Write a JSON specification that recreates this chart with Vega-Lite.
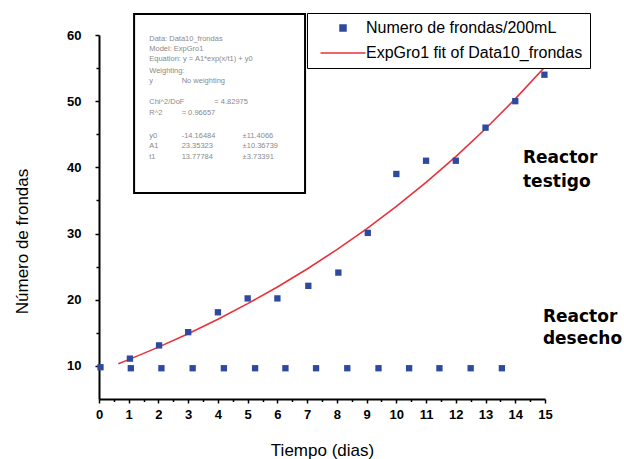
{
  "$schema": "https://vega.github.io/schema/vega-lite/v6.json",
  "autosize": "none",
  "width": 446,
  "height": 364,
  "padding": {"left": 99, "top": 35, "right": 79, "bottom": 60},
  "background": "white",
  "config": {
    "view": {"stroke": null},
    "font": "Liberation Sans",
    "axis": {
      "domainColor": "black",
      "domainWidth": 2,
      "tickColor": "black",
      "tickWidth": 1.5,
      "grid": false,
      "labelFont": "Liberation Sans",
      "labelFontWeight": "bold",
      "labelFontSize": 13,
      "labelColor": "black",
      "titleFont": "Liberation Sans",
      "titleFontWeight": "normal",
      "titleFontSize": 17,
      "titleColor": "black"
    }
  },
  "datasets": {
    "pts": [
      {"dia": 0.05, "frondas": 9.8, "serie": "Numero de frondas/200mL", "reactor": "testigo"},
      {"dia": 1.04, "frondas": 11.1, "serie": "Numero de frondas/200mL", "reactor": "testigo"},
      {"dia": 2.02, "frondas": 13.1, "serie": "Numero de frondas/200mL", "reactor": "testigo"},
      {"dia": 3.0, "frondas": 15.1, "serie": "Numero de frondas/200mL", "reactor": "testigo"},
      {"dia": 4.0, "frondas": 18.1, "serie": "Numero de frondas/200mL", "reactor": "testigo"},
      {"dia": 5.0, "frondas": 20.2, "serie": "Numero de frondas/200mL", "reactor": "testigo"},
      {"dia": 6.0, "frondas": 20.2, "serie": "Numero de frondas/200mL", "reactor": "testigo"},
      {"dia": 7.04, "frondas": 22.1, "serie": "Numero de frondas/200mL", "reactor": "testigo"},
      {"dia": 8.05, "frondas": 24.1, "serie": "Numero de frondas/200mL", "reactor": "testigo"},
      {"dia": 9.04, "frondas": 30.1, "serie": "Numero de frondas/200mL", "reactor": "testigo"},
      {"dia": 10.0, "frondas": 39.0, "serie": "Numero de frondas/200mL", "reactor": "testigo"},
      {"dia": 11.0, "frondas": 41.0, "serie": "Numero de frondas/200mL", "reactor": "testigo"},
      {"dia": 12.0, "frondas": 41.0, "serie": "Numero de frondas/200mL", "reactor": "testigo"},
      {"dia": 13.0, "frondas": 46.0, "serie": "Numero de frondas/200mL", "reactor": "testigo"},
      {"dia": 14.0, "frondas": 50.0, "serie": "Numero de frondas/200mL", "reactor": "testigo"},
      {"dia": 14.98, "frondas": 54.0, "serie": "Numero de frondas/200mL", "reactor": "testigo"},
      {"dia": 1.07, "frondas": 9.65, "serie": "Numero de frondas/200mL", "reactor": "desecho"},
      {"dia": 2.1, "frondas": 9.65, "serie": "Numero de frondas/200mL", "reactor": "desecho"},
      {"dia": 3.15, "frondas": 9.65, "serie": "Numero de frondas/200mL", "reactor": "desecho"},
      {"dia": 4.2, "frondas": 9.65, "serie": "Numero de frondas/200mL", "reactor": "desecho"},
      {"dia": 5.25, "frondas": 9.65, "serie": "Numero de frondas/200mL", "reactor": "desecho"},
      {"dia": 6.27, "frondas": 9.65, "serie": "Numero de frondas/200mL", "reactor": "desecho"},
      {"dia": 7.3, "frondas": 9.65, "serie": "Numero de frondas/200mL", "reactor": "desecho"},
      {"dia": 8.35, "frondas": 9.65, "serie": "Numero de frondas/200mL", "reactor": "desecho"},
      {"dia": 9.4, "frondas": 9.65, "serie": "Numero de frondas/200mL", "reactor": "desecho"},
      {"dia": 10.43, "frondas": 9.65, "serie": "Numero de frondas/200mL", "reactor": "desecho"},
      {"dia": 11.45, "frondas": 9.65, "serie": "Numero de frondas/200mL", "reactor": "desecho"},
      {"dia": 12.5, "frondas": 9.65, "serie": "Numero de frondas/200mL", "reactor": "desecho"},
      {"dia": 13.55, "frondas": 9.65, "serie": "Numero de frondas/200mL", "reactor": "desecho"}
    ],
    "fit": [
      {"dia": 0.65, "frondas": 10.32, "serie": "ExpGro1 fit of Data10_frondas"},
      {"dia": 1, "frondas": 10.95, "serie": "ExpGro1 fit of Data10_frondas"},
      {"dia": 2, "frondas": 12.84, "serie": "ExpGro1 fit of Data10_frondas"},
      {"dia": 3, "frondas": 14.87, "serie": "ExpGro1 fit of Data10_frondas"},
      {"dia": 4, "frondas": 17.06, "serie": "ExpGro1 fit of Data10_frondas"},
      {"dia": 5, "frondas": 19.41, "serie": "ExpGro1 fit of Data10_frondas"},
      {"dia": 6, "frondas": 21.93, "serie": "ExpGro1 fit of Data10_frondas"},
      {"dia": 7, "frondas": 24.65, "serie": "ExpGro1 fit of Data10_frondas"},
      {"dia": 8, "frondas": 27.57, "serie": "ExpGro1 fit of Data10_frondas"},
      {"dia": 9, "frondas": 30.71, "serie": "ExpGro1 fit of Data10_frondas"},
      {"dia": 10, "frondas": 34.09, "serie": "ExpGro1 fit of Data10_frondas"},
      {"dia": 11, "frondas": 37.72, "serie": "ExpGro1 fit of Data10_frondas"},
      {"dia": 12, "frondas": 41.63, "serie": "ExpGro1 fit of Data10_frondas"},
      {"dia": 13, "frondas": 45.83, "serie": "ExpGro1 fit of Data10_frondas"},
      {"dia": 14, "frondas": 50.35, "serie": "ExpGro1 fit of Data10_frondas"},
      {"dia": 15, "frondas": 55.2, "serie": "ExpGro1 fit of Data10_frondas"}
    ],
    "box": [
      {"x1": 1.18, "x2": 6.93, "y1": 63.17, "y2": 36.13}
    ],
    "stats": [
      {"x": 1.69, "y": 59.35, "t": "Data: Data10_frondas"},
      {"x": 1.69, "y": 57.88, "t": "Model: ExpGro1"},
      {"x": 1.69, "y": 56.33, "t": "Equation: y = A1*exp(x/t1) + y0"},
      {"x": 1.69, "y": 54.56, "t": "Weighting:"},
      {"x": 1.69, "y": 53.0, "t": "y"},
      {"x": 2.78, "y": 53.0, "t": "No weighting"},
      {"x": 1.69, "y": 49.92, "t": "Chi^2/DoF"},
      {"x": 3.88, "y": 49.92, "t": "= 4.82975"},
      {"x": 1.69, "y": 48.21, "t": "R^2"},
      {"x": 2.78, "y": 48.21, "t": "= 0.96657"},
      {"x": 1.69, "y": 44.78, "t": "y0"},
      {"x": 2.78, "y": 44.78, "t": "-14.16484"},
      {"x": 4.83, "y": 44.78, "t": "±11.4066"},
      {"x": 1.69, "y": 43.27, "t": "A1"},
      {"x": 2.78, "y": 43.27, "t": "23.35323"},
      {"x": 4.83, "y": 43.27, "t": "±10.36739"},
      {"x": 1.69, "y": 41.61, "t": "t1"},
      {"x": 2.78, "y": 41.61, "t": "13.77784"},
      {"x": 4.83, "y": 41.61, "t": "±3.73391"}
    ],
    "notes": [
      {"x": 14.26, "y": 41.41, "t": "Reactor"},
      {"x": 14.26, "y": 37.79, "t": "testigo"},
      {"x": 14.93, "y": 17.39, "t": "Reactor"},
      {"x": 14.93, "y": 14.07, "t": "desecho"}
    ]
  },
  "resolve": {"axis": {"x": "independent", "y": "independent"}},
  "layer": [
    {
      "data": {"name": "fit"},
      "mark": {"type": "line", "color": "#E8313A", "strokeWidth": 1.6},
      "encoding": {
        "x": {"field": "dia", "type": "quantitative", "scale": {"domain": [0, 15], "nice": false, "zero": false},
              "axis": {"orient": "bottom", "values": [0.5,1.5,2.5,3.5,4.5,5.5,6.5,7.5,8.5,9.5,10.5,11.5,12.5,13.5,14.5], "labels": false, "domain": false, "tickSize": 2.5, "title": null}},
        "y": {"field": "frondas", "type": "quantitative", "scale": {"domain": [5, 60], "nice": false, "zero": false},
              "axis": {"orient": "left", "values": [15, 25, 35, 45, 55], "labels": false, "domain": false, "tickSize": 3, "title": null}},
        "color": {"field": "serie", "type": "nominal",
                  "scale": {"domain": ["Numero de frondas/200mL", "ExpGro1 fit of Data10_frondas"], "range": ["#2E4A9E", "#E8313A"]}}
      }
    },
    {
      "data": {"name": "pts"},
      "mark": {"type": "point", "filled": true, "size": 40, "opacity": 1},
      "encoding": {
        "x": {"field": "dia", "type": "quantitative", "scale": {"domain": [0, 15], "nice": false, "zero": false},
              "axis": {"orient": "bottom", "values": [0,1,2,3,4,5,6,7,8,9,10,11,12,13,14,15], "tickSize": 4, "labelPadding": 5, "labelFlush": false,
                       "title": "Tiempo (dias)", "titleY": 51, "titleBaseline": "middle"}},
        "y": {"field": "frondas", "type": "quantitative", "scale": {"domain": [5, 60], "nice": false, "zero": false},
              "axis": {"orient": "left", "values": [10, 20, 30, 40, 50, 60], "tickSize": 4, "labelPadding": 14, "labelFlush": false,
                       "title": "Número de frondas", "titleAngle": -90, "titleBaseline": "middle", "titleAlign": "center", "titleX": -77, "titleY": 206}},
        "color": {"field": "serie", "type": "nominal",
                  "scale": {"domain": ["Numero de frondas/200mL", "ExpGro1 fit of Data10_frondas"], "range": ["#2E4A9E", "#E8313A"]},
                  "legend": {
                    "title": null, "orient": "none", "legendX": 208, "legendY": -22,
                    "direction": "vertical",
                    "strokeColor": "black", "fillColor": "white", "padding": 7,
                    "symbolSize": 36, "symbolOffset": 21, "labelOffset": 15,
                    "labelFont": "Liberation Sans", "labelFontSize": 16, "labelColor": "black", "labelLimit": 400,
                    "rowPadding": 9,
                    "encode": {"symbols": {"update": {"stroke": {"scale": "color", "field": "value"}, "strokeWidth": {"value": 1.6}}}}
                  }},
        "shape": {"field": "serie", "type": "nominal",
                  "scale": {"domain": ["Numero de frondas/200mL", "ExpGro1 fit of Data10_frondas"], "range": ["square", "M-7.5,0H7.5"]},
                  "legend": {"title": null}}
      }
    },
    {
      "data": {"name": "box"},
      "mark": {"type": "rect", "fill": "white", "stroke": "black", "strokeWidth": 2},
      "encoding": {
        "x": {"field": "x1", "type": "quantitative", "scale": {"domain": [0, 15], "nice": false, "zero": false}, "axis": null},
        "x2": {"field": "x2"},
        "y": {"field": "y1", "type": "quantitative", "scale": {"domain": [5, 60], "nice": false, "zero": false}, "axis": null},
        "y2": {"field": "y2"}
      }
    },
    {
      "data": {"name": "stats"},
      "mark": {"type": "text", "align": "left", "baseline": "middle", "fontSize": 7.5, "color": "#8a8a8a", "font": "Liberation Sans"},
      "encoding": {
        "x": {"field": "x", "type": "quantitative", "scale": {"domain": [0, 15], "nice": false, "zero": false}, "axis": null},
        "y": {"field": "y", "type": "quantitative", "scale": {"domain": [5, 60], "nice": false, "zero": false}, "axis": null},
        "text": {"field": "t"}
      }
    },
    {
      "data": {"name": "notes"},
      "mark": {"type": "text", "align": "left", "baseline": "middle", "fontSize": 17, "fontWeight": "bold", "color": "black", "font": "DejaVu Sans"},
      "encoding": {
        "x": {"field": "x", "type": "quantitative", "scale": {"domain": [0, 15], "nice": false, "zero": false}, "axis": null},
        "y": {"field": "y", "type": "quantitative", "scale": {"domain": [5, 60], "nice": false, "zero": false}, "axis": null},
        "text": {"field": "t"}
      }
    }
  ]
}
